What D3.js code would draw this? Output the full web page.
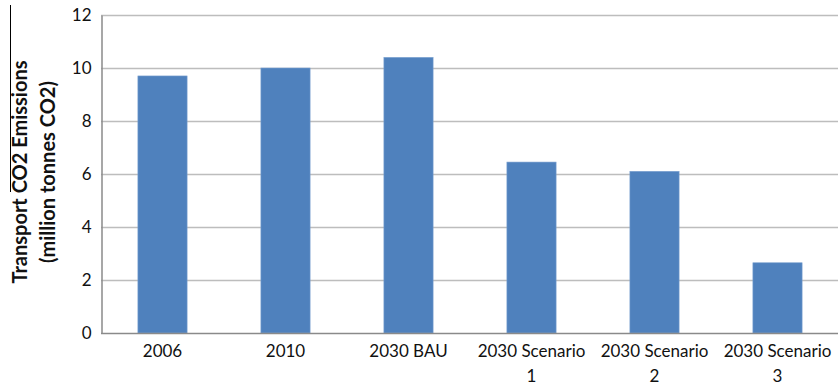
<!DOCTYPE html>
<html>
<head>
<meta charset="utf-8">
<script src="https://cdn.jsdelivr.net/npm/d3@7"></script>
<style>
  html, body { margin: 0; padding: 0; background: #fff; }
  svg { display: block; }
</style>
</head>
<body>
<svg id="chart" width="838" height="386"></svg>
<script>
// Transport CO2 emissions by year / scenario (million tonnes CO2)
const categories = ["2006", "2010", "2030 BAU", "2030 Scenario 1", "2030 Scenario 2", "2030 Scenario 3"];
const emissions = [9.7, 10.0, 10.4, 6.45, 6.1, 2.65];
const yTicks = [0, 2, 4, 6, 8, 10, 12];
const yTitleLines = ["Transport CO2 Emissions", "(million tonnes CO2)"];

const W = 838, H = 386;
const margin = { top: 15, right: -1, bottom: 53, left: 101 };
const svg = d3.select("#chart");
const font = "Lato, 'Open Sans', sans-serif";

const x = d3.scaleBand()
  .domain(categories)
  .range([margin.left, W - margin.right])
  .paddingInner(0.6)
  .paddingOuter(0.3);

const y = d3.scaleLinear()
  .domain([0, 12])
  .range([H - margin.bottom, margin.top]);

// horizontal gridlines
svg.append("g")
  .selectAll("line")
  .data(yTicks.filter(d => d > 0))
  .join("line")
  .attr("x1", margin.left)
  .attr("x2", W)
  .attr("y1", d => Math.round(y(d)) + 0.5)
  .attr("y2", d => Math.round(y(d)) + 0.5)
  .attr("stroke", "#bdbdbd")
  .attr("stroke-width", 1.5);

// bars
svg.append("g")
  .selectAll("rect")
  .data(categories.map((c, i) => ({ c, v: emissions[i] })))
  .join("rect")
  .attr("x", d => x(d.c))
  .attr("width", x.bandwidth())
  .attr("y", d => y(d.v))
  .attr("height", d => y(0) - y(d.v))
  .attr("fill", "#4f81bd")
  .attr("stroke", "#7aa0cf")
  .attr("stroke-width", 0.6);

// y axis
const yAxis = d3.axisLeft(y).tickValues(yTicks).tickSize(0).tickPadding(10).tickFormat(d3.format("d"));
const gy = svg.append("g")
  .attr("transform", `translate(${margin.left + 0.5},0)`)
  .call(yAxis);
gy.select(".domain").attr("stroke", "#8a8a8a").attr("stroke-width", 1.5);
gy.selectAll("text")
  .attr("font-family", font)
  .attr("font-size", 17)
  .attr("fill", "#111");

// x axis
const xAxis = d3.axisBottom(x).tickSize(0).tickPadding(0);
const gx = svg.append("g")
  .attr("transform", `translate(0,${Math.round(y(0)) + 0.5})`)
  .call(xAxis);
gx.select(".domain").attr("stroke", "#8a8a8a").attr("stroke-width", 1.5)
  .attr("d", `M${margin.left},0H${W}`);
gx.selectAll(".tick text")
  .attr("font-family", font)
  .attr("font-size", 17)
  .attr("fill", "#111")
  .attr("y", 23)
  .attr("dy", 0)
  .each(function(d) {
    const t = d3.select(this);
    t.text(null);
    const lines = d.length > 12 ? [d.slice(0, d.lastIndexOf(" ")), d.slice(d.lastIndexOf(" ") + 1)] : [d];
    lines.forEach((ln, i) => {
      t.append("tspan").attr("x", 0).attr("y", 23 + i * 25).text(ln);
    });
  });

// y axis title
const yTitle = svg.append("text")
  .attr("transform", `translate(27,172) rotate(-90)`)
  .attr("text-anchor", "middle")
  .attr("font-family", font)
  .attr("font-weight", "bold")
  .attr("font-size", 20)
  .attr("fill", "#111");
yTitleLines.forEach((ln, i) => {
  yTitle.append("tspan").attr("x", 0).attr("y", i * 28).text(ln);
});

// thin rule at the left margin
svg.append("line")
  .attr("x1", 10.5).attr("x2", 10.5)
  .attr("y1", 5).attr("y2", 192)
  .attr("stroke", "#000")
  .attr("stroke-width", 1);
</script>
</body>
</html>
